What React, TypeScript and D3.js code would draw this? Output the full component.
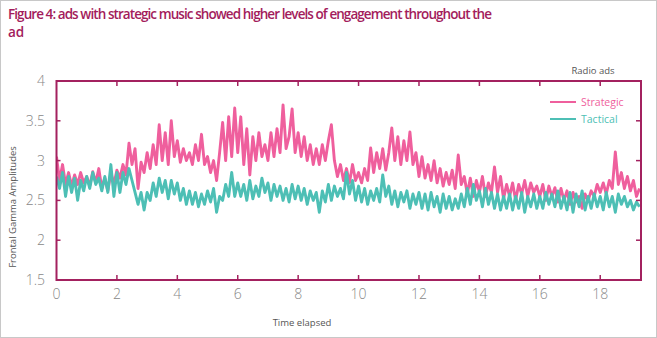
import React from "react";
import * as d3 from "d3";

const STEP = 0.1;
const strategic: number[] = [
  3.05, 2.75, 2.95, 2.7, 2.85, 2.68, 2.82, 2.7, 2.85, 2.72,
  2.8, 2.68, 2.86, 2.72, 2.9, 2.65, 2.78, 2.62, 2.85, 2.7,
  2.88, 2.78, 2.95, 2.82, 3.22, 2.95, 3.15, 2.65, 2.98, 2.85,
  3.1, 2.9, 3.2, 2.95, 3.45, 3.0, 3.35, 2.95, 3.5, 3.05,
  3.25, 2.98, 3.15, 3.0, 3.1, 2.95, 3.2, 3.0, 3.33, 2.95,
  3.05, 2.85, 3.0, 2.75, 3.1, 3.48, 3.0, 3.55, 3.05, 3.66,
  3.1, 3.55, 2.95, 3.4, 2.82, 3.3, 3.0, 3.35, 3.05, 3.2,
  3.0, 3.35, 3.05, 3.4, 3.1, 3.7, 3.15, 3.3, 3.65, 3.1,
  3.35, 3.05, 3.3, 3.0, 3.2, 2.95, 3.15, 2.95, 3.2, 3.0,
  3.25, 3.45, 3.0, 2.8, 2.95, 2.75, 2.9, 2.72, 2.95, 2.75,
  2.85, 2.72, 2.9, 2.75, 3.16, 2.85, 3.1, 2.9, 3.15, 2.88,
  3.1, 3.41, 3.0, 3.3, 2.95, 3.25, 3.0, 3.36, 2.95, 3.1,
  2.8, 3.05, 2.78, 2.95, 2.75, 3.0, 2.72, 2.9, 2.68, 2.85,
  2.7, 2.88, 2.65, 3.07, 2.7, 2.8, 2.58, 2.78, 2.55, 2.75,
  2.6, 2.8, 2.55, 2.72, 2.6, 2.92, 2.6, 2.8, 2.52, 2.7,
  2.55, 2.72, 2.5, 2.7, 2.58, 2.75, 2.55, 2.72, 2.6, 2.68,
  2.55, 2.7, 2.5, 2.68, 2.55, 2.66, 2.48, 2.65, 2.5, 2.62,
  2.45, 2.6, 2.48, 2.55, 2.4, 2.58, 2.5, 2.62, 2.55, 2.7,
  2.6, 2.72, 2.58, 2.75, 2.65, 3.11, 2.7, 2.85, 2.65, 2.8,
  2.62, 2.75, 2.55, 2.65,
];
const tactical: number[] = [
  2.8, 2.65, 2.85, 2.55, 2.8, 2.6, 2.78, 2.5, 2.75, 2.62,
  2.8, 2.65, 2.85, 2.7, 2.78, 2.62, 2.8, 2.6, 2.95, 2.55,
  2.85, 2.6, 2.85, 2.7, 2.9, 2.75, 2.6, 2.45, 2.6, 2.38,
  2.6, 2.5, 2.72, 2.55, 2.78, 2.6, 2.75, 2.52, 2.75, 2.58,
  2.72, 2.5, 2.65, 2.45, 2.62, 2.45, 2.6, 2.42, 2.58, 2.45,
  2.62, 2.48, 2.65, 2.35, 2.55, 2.5, 2.7, 2.55, 2.85, 2.55,
  2.72, 2.55, 2.7, 2.5, 2.75, 2.52, 2.68, 2.55, 2.78, 2.6,
  2.72, 2.5, 2.7, 2.55, 2.68, 2.5, 2.65, 2.48, 2.7, 2.52,
  2.68, 2.5, 2.65, 2.45, 2.62, 2.5, 2.6, 2.35, 2.62, 2.48,
  2.7, 2.5, 2.68, 2.55, 2.65, 2.52, 2.85, 2.58, 2.75, 2.5,
  2.68, 2.48, 2.65, 2.45, 2.62, 2.5, 2.65, 2.48, 2.82, 2.55,
  2.68, 2.45, 2.62, 2.42, 2.6, 2.48, 2.62, 2.4, 2.58, 2.45,
  2.6, 2.4, 2.58, 2.38, 2.6, 2.42, 2.55, 2.35, 2.58, 2.4,
  2.55, 2.38, 2.52, 2.4, 2.58, 2.42, 2.65, 2.45, 2.7, 2.5,
  2.62, 2.42, 2.65, 2.45, 2.6, 2.4, 2.58, 2.38, 2.55, 2.4,
  2.58, 2.38, 2.55, 2.4, 2.6, 2.35, 2.55, 2.42, 2.58, 2.4,
  2.55, 2.4, 2.6, 2.45, 2.58, 2.42, 2.62, 2.4, 2.55, 2.38,
  2.6, 2.35, 2.58, 2.42, 2.62, 2.38, 2.55, 2.4, 2.58, 2.42,
  2.55, 2.38, 2.6, 2.42, 2.55, 2.35, 2.58, 2.45, 2.55, 2.42,
  2.5, 2.38, 2.48, 2.42,
];
const xTicks = [0, 2, 4, 6, 8, 10, 12, 14, 16, 18];
const yTicks = [1.5, 2, 2.5, 3, 3.5, 4];
const seriesNames = ["Strategic", "Tactical"];

const W = 657, H = 338;
const L = 56.5, R = 641, T = 81, B = 280;
const PINK = "#ef5f9d", TEAL = "#4dbfb5", FRAME = "#a3215f", TITLE = "#a31c5c";

export default function App() {
  const x = d3.scaleLinear().domain([0, 19.35]).range([L, R]);
  const y = d3.scaleLinear().domain([1.5, 4]).range([B, T]);
  const line = d3
    .line<number>()
    .x((_, i) => x(i * STEP))
    .y((d) => y(d));
  const font = "'Open Sans', 'DejaVu Sans', sans-serif";
  return (
    <svg width={W} height={H} style={{ position: "absolute", left: 0, top: 0 }}>
      <rect x={0} y={0} width={W} height={H} fill="#fff" />
      <rect x={0.5} y={0.5} width={W - 1} height={H - 1} fill="none" stroke="#c8c8c8" />
      <text x={8} y={19} fontFamily={font} fontWeight={600} fontSize={13.5} fill={TITLE} textLength={484} lengthAdjust="spacing">
        Figure 4: ads with strategic music showed higher levels of engagement throughout the
      </text>
      <text x={8} y={37} fontFamily={font} fontWeight={600} fontSize={13.5} fill={TITLE}>
        ad
      </text>
      <text x={593} y={74} fontFamily={font} fontSize={9.5} fill="#555" textAnchor="middle">Radio ads</text>
      <defs>
        <clipPath id="plotclip">
          <rect x={L} y={T} width={R - L} height={B - T} />
        </clipPath>
      </defs>
      <g clipPath="url(#plotclip)">
        <path d={line(strategic) || ""} fill="none" stroke={PINK} strokeWidth={2.9} strokeLinejoin="round" />
        <path d={line(tactical) || ""} fill="none" stroke={TEAL} strokeWidth={2.9} strokeLinejoin="round" />
      </g>
      <rect x={L} y={T} width={R - L} height={B - T} fill="none" stroke={FRAME} strokeWidth={2} />
      {xTicks.slice(1).map((t) => (
        <g key={"xt" + t}>
          <line x1={x(t)} x2={x(t)} y1={B} y2={B - 5} stroke={FRAME} strokeWidth={1.5} />
          <line x1={x(t)} x2={x(t)} y1={T} y2={T + 5} stroke={FRAME} strokeWidth={1.5} />
        </g>
      ))}
      {yTicks.slice(1, -1).map((t) => (
        <g key={"yt" + t}>
          <line x1={L} x2={L + 4} y1={y(t)} y2={y(t)} stroke={FRAME} strokeWidth={1.5} />
          <line x1={R} x2={R - 5} y1={y(t)} y2={y(t)} stroke={FRAME} strokeWidth={1.5} />
        </g>
      ))}
      {xTicks.map((t) => (
        <text key={"xl" + t} x={x(t)} y={299} fontFamily={font} fontSize={14} fill="#888" textAnchor="middle" fontWeight={300}>
          {t}
        </text>
      ))}
      {yTicks.map((t) => (
        <text key={"yl" + t} x={45} y={y(t) + 5} fontFamily={font} fontSize={14} fill="#888" textAnchor="end" fontWeight={300}>
          {t}
        </text>
      ))}
      <text x={302} y={326} fontFamily={font} fontSize={9.5} fill="#555" textAnchor="middle">Time elapsed</text>
      <text transform="translate(16,207) rotate(-90)" fontFamily={font} fontSize={9.5} fill="#555" textAnchor="middle">
        Frontal Gamma Amplitudes
      </text>
      {seriesNames.map((s, i) => (
        <g key={s}>
          <line x1={550} x2={576} y1={102 + i * 17} y2={102 + i * 17} stroke={i === 0 ? PINK : TEAL} strokeWidth={2} />
          <text x={581} y={106 + i * 17} fontFamily={font} fontSize={10.5} fill={i === 0 ? PINK : TEAL}>
            {s}
          </text>
        </g>
      ))}
    </svg>
  );
}
